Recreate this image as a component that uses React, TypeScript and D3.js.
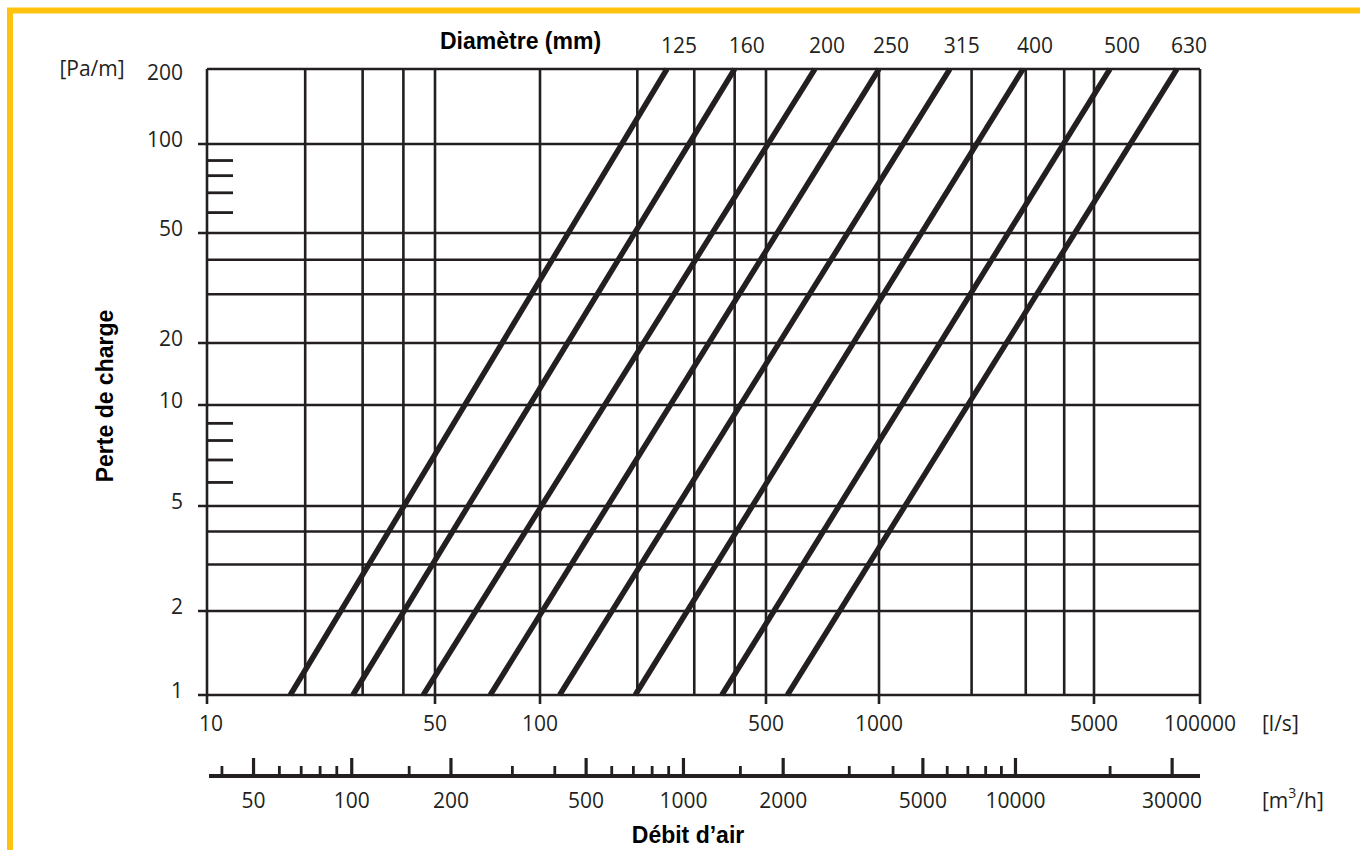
import * as d3 from "d3";

// diameters (mm) and the flow (l/s) read where each line meets 1 Pa/m and 200 Pa/m
const diameters = ["125", "160", "200", "250", "315", "400", "500", "630"];
const flowAt1Pa = [18, 28, 46, 72, 115, 197, 365, 570];
const flowAt200Pa = [247, 400, 675, 1000, 1700, 2940, 5550, 8600];

// pressure axis (Pa/m)
const pressureTicks = [1, 2, 5, 10, 20, 50, 100, 200];
const pressureGrid = [3, 4, 30, 40];
const pressureMinor = [6, 7, 8, 9, 60, 70, 80, 90];

// flow axis (l/s)
const flowTicks = [10, 50, 100, 500, 1000, 5000, 10000];
const flowTickLabels = ["10", "50", "100", "500", "1000", "5000", "100000"];
const flowGrid = [20, 30, 40, 200, 300, 400, 2000, 3000, 4000];

// secondary flow axis (m3/h)
const m3hMajor = [50, 100, 200, 500, 1000, 2000, 5000, 10000, 30000];
const m3hMinor = [40, 60, 70, 80, 90, 150, 300, 400, 600, 700, 800, 900, 1500, 3000, 4000, 6000, 7000, 8000, 9000, 20000];

// the nomogram is hand drawn, so the log axes are piecewise
const xStops = [207, 435, 540, 766, 879, 1094, 1200];
const yStops = [695, 611, 506, 405, 343, 233, 144, 69];

const ink = "#231f20";
const numFont = "'Open Sans', sans-serif";
const boldFont = "'Liberation Sans', Arial, sans-serif";

export default function App() {
  const x = d3.scaleLog().domain(flowTicks).range(xStops);
  const y = d3.scaleLog().domain(pressureTicks).range(yStops);
  const xm = (v: number) => x(v / 3.6);

  const left = x(10), right = x(10000), top = y(200), bottom = y(1);
  const axisY = 776;

  const line = d3.line<[number, number]>()
    .x(d => x(d[0]))
    .y(d => y(d[1]));

  return (
    <svg width={1360} height={850} style={{ position: "absolute", left: 0, top: 0, background: "#fff" }}>
      {/* frame */}
      <path d="M10,850 V10.5 H1360" fill="none" stroke="#FFC20E" strokeWidth={6} />

      {/* horizontal grid */}
      {pressureTicks.map(v => (
        <line key={"h" + v} x1={v === 200 ? left : left - 9} x2={right} y1={y(v)} y2={y(v)} stroke={ink} strokeWidth={2.6} />
      ))}
      {pressureGrid.map(v => (
        <line key={"hg" + v} x1={left} x2={right} y1={y(v)} y2={y(v)} stroke={ink} strokeWidth={2.6} />
      ))}
      {pressureMinor.map(v => (
        <line key={"hm" + v} x1={left} x2={left + 26} y1={y(v) + 3} y2={y(v) + 3} stroke={ink} strokeWidth={2.8} />
      ))}

      {/* vertical grid */}
      {flowTicks.map(v => (
        <line key={"v" + v} x1={x(v)} x2={x(v)} y1={top} y2={bottom + 9} stroke={ink} strokeWidth={2.6} />
      ))}
      {flowGrid.map(v => (
        <line key={"vg" + v} x1={x(v)} x2={x(v)} y1={top} y2={bottom} stroke={ink} strokeWidth={2.6} />
      ))}

      {/* diameter lines */}
      {diameters.map((d, i) => (
        <path key={"d" + d} d={line([[flowAt1Pa[i], 1], [flowAt200Pa[i], 200]]) || ""} fill="none" stroke={ink} strokeWidth={5.5} />
      ))}
      {diameters.map((d, i) => (
        <text key={"dl" + d} x={x(flowAt200Pa[i]) + 12} y={top - 24} textAnchor="middle" dominantBaseline="central"
          fontFamily={numFont} fontSize={21} fill={ink}>{d}</text>
      ))}

      {/* y labels */}
      {pressureTicks.map(v => (
        <text key={"yl" + v} x={183} y={y(v) + (v === 200 ? 3 : -5)} textAnchor="end" dominantBaseline="central"
          fontFamily={numFont} fontSize={21} fill={ink}>{v}</text>
      ))}
      <text x={92} y={top - 1} textAnchor="middle" dominantBaseline="central" fontFamily={numFont} fontSize={21} fill={ink}>[Pa/m]</text>

      {/* x labels l/s */}
      {flowTicks.map((v, i) => (
        <text key={"xl" + v} x={x(v) + (i === 0 ? 4 : 0)} y={723} textAnchor="middle" dominantBaseline="central"
          fontFamily={numFont} fontSize={21} fill={ink}>{flowTickLabels[i]}</text>
      ))}
      <text x={1262} y={723} dominantBaseline="central" fontFamily={numFont} fontSize={21} fill={ink}>[l/s]</text>

      {/* m3/h axis */}
      <line x1={left + 2} x2={right} y1={axisY} y2={axisY} stroke={ink} strokeWidth={4} />
      {m3hMajor.map(v => (
        <line key={"mj" + v} x1={xm(v)} x2={xm(v)} y1={axisY} y2={axisY - 18} stroke={ink} strokeWidth={3.2} />
      ))}
      {m3hMinor.map(v => (
        <line key={"mn" + v} x1={xm(v)} x2={xm(v)} y1={axisY} y2={axisY - 10} stroke={ink} strokeWidth={2.8} />
      ))}
      {m3hMajor.map(v => (
        <text key={"ml" + v} x={xm(v)} y={800} textAnchor="middle" dominantBaseline="central"
          fontFamily={numFont} fontSize={21} fill={ink}>{v}</text>
      ))}
      <text x={1262} y={800} dominantBaseline="central" fontFamily={numFont} fontSize={21} fill={ink}>
        [m<tspan dy={-8} fontSize={14}>3</tspan><tspan dy={8}>/h]</tspan>
      </text>

      {/* titles */}
      <text x={440} y={41} dominantBaseline="central" fontFamily={boldFont} fontWeight="bold" fontSize={23} fill="#000">Diamètre (mm)</text>
      <text transform="translate(105,396) rotate(-90)" textAnchor="middle" dominantBaseline="central"
        fontFamily={boldFont} fontWeight="bold" fontSize={23} fill="#000">Perte de charge</text>
      <text x={688} y={835} textAnchor="middle" dominantBaseline="central" fontFamily={boldFont} fontWeight="bold" fontSize={23} fill="#000">Débit d’air</text>
    </svg>
  );
}
